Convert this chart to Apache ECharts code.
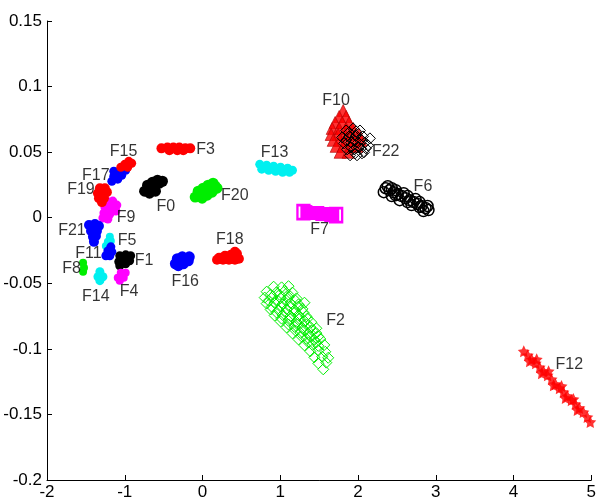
<!DOCTYPE html>
<html>
<head>
<meta charset="utf-8">
<script src="https://cdn.jsdelivr.net/npm/echarts@6/dist/echarts.min.js"></script>
<style>
html,body{margin:0;padding:0;background:#fff;}
#chart{width:599px;height:502px;}
</style>
</head>
<body>
<div id="chart"></div>
<script>
// ---- data ----
const xTicks = [-2, -1, 0, 1, 2, 3, 4, 5];
const yTicks = [-0.2, -0.15, -0.1, -0.05, 0, 0.05, 0.1, 0.15];

const F0 = [[-0.745,0.0202],[-0.681,0.0218],[-0.617,0.0241],[-0.554,0.0263],[-0.515,0.0278],[-0.707,0.0248],[-0.643,0.0271],[-0.579,0.0286],[-0.681,0.0187],[-0.605,0.0202]];
const F1 = [[-1.064,-0.0290],[-0.988,-0.0283],[-0.924,-0.0290],[-1.077,-0.0336],[-1.000,-0.0329],[-0.937,-0.0329],[-1.064,-0.0366],[-0.988,-0.0351]];
const F2 = [
  [0.915,-0.0526],[1.017,-0.0531],[1.106,-0.0522],
  [0.825,-0.0564],[0.953,-0.0568],[1.055,-0.0560],[1.157,-0.0571],
  [0.800,-0.0609],[0.902,-0.0604],[1.004,-0.0613],[1.106,-0.0606],[1.209,-0.0615],
  [0.825,-0.0655],[0.928,-0.0650],[1.030,-0.0659],[1.132,-0.0652],[1.234,-0.0661],[1.311,-0.0648],
  [0.876,-0.0700],[0.979,-0.0706],[1.081,-0.0697],[1.183,-0.0704],[1.285,-0.0695],
  [0.928,-0.0746],[1.030,-0.0741],[1.132,-0.0750],[1.234,-0.0743],[1.336,-0.0752],
  [1.004,-0.0791],[1.106,-0.0786],[1.209,-0.0795],[1.311,-0.0788],[1.400,-0.0797],
  [1.081,-0.0837],[1.183,-0.0832],[1.285,-0.0841],[1.387,-0.0834],[1.464,-0.0843],
  [1.157,-0.0882],[1.260,-0.0878],[1.362,-0.0886],[1.464,-0.0880],
  [1.234,-0.0928],[1.336,-0.0923],[1.438,-0.0932],[1.515,-0.0925],
  [1.311,-0.0973],[1.413,-0.0969],[1.489,-0.0977],[1.566,-0.0970],
  [1.387,-0.1019],[1.489,-0.1014],[1.579,-0.1022],
  [1.438,-0.1064],[1.540,-0.1060],[1.617,-0.1068],
  [1.489,-0.1110],[1.592,-0.1105],
  [1.553,-0.1156],
  [0.876,-0.0587],[0.991,-0.0587],[1.106,-0.0587],
  [0.851,-0.0632],[0.966,-0.0632],[1.081,-0.0632],[1.196,-0.0632],
  [0.889,-0.0678],[1.004,-0.0678],[1.119,-0.0678],[1.234,-0.0678],
  [0.953,-0.0723],[1.068,-0.0723],[1.183,-0.0723],[1.298,-0.0723],
  [1.017,-0.0769],[1.132,-0.0769],[1.247,-0.0769],[1.349,-0.0769],
  [1.106,-0.0814],[1.221,-0.0814],[1.336,-0.0814],
  [1.196,-0.0860],[1.311,-0.0860],[1.413,-0.0860],
  [1.273,-0.0905],[1.387,-0.0905],[1.489,-0.0905],
  [1.362,-0.0951],[1.464,-0.0951]
];
const F3 = [[-0.528,0.0529],[-0.451,0.0536],[-0.375,0.0536],[-0.298,0.0536],[-0.221,0.0529],[-0.158,0.0529],[-0.426,0.0514],[-0.324,0.0514],[-0.247,0.0514]];
const F4 = [[-1.051,-0.0419],[-0.988,-0.0419],[-1.090,-0.0457],[-1.013,-0.0457],[-1.064,-0.0480]];
const F5 = [[-1.192,-0.0146],[-1.217,-0.0184],[-1.179,-0.0177],[-1.243,-0.0215]];
const F6 = [[2.357,0.0225],[2.408,0.0210],[2.460,0.0195],[2.511,0.0180],[2.562,0.0165],[2.613,0.0149],[2.664,0.0134],[2.715,0.0119],[2.766,0.0104],[2.817,0.0089],[2.868,0.0074],[2.906,0.0058],[2.434,0.0225],[2.587,0.0187],[2.740,0.0142],[2.485,0.0172],[2.638,0.0119],[2.791,0.0081],
  [2.383,0.0240],[2.485,0.0210],[2.638,0.0165],[2.791,0.0119],[2.894,0.0089],[2.332,0.0195],[2.434,0.0165],[2.536,0.0134],[2.689,0.0096],[2.842,0.0051]];
const F7 = [[1.298,0.0043],[1.336,0.0043],[1.375,0.0036],[1.413,0.0036],[1.451,0.0036],[1.489,0.0036],[1.528,0.0028],[1.566,0.0028],[1.604,0.0028],[1.643,0.0020],[1.681,0.0020],[1.719,0.0020]];
const F8 = [[-1.536,-0.0344],[-1.524,-0.0382],[-1.536,-0.0412]];
const F9 = [[-1.230,0.0127],[-1.154,0.0127],[-1.102,0.0096],[-1.256,0.0081],[-1.179,0.0081],[-1.115,0.0051],[-1.268,0.0036],[-1.192,0.0028],[-1.281,-0.0002],[-1.217,-0.0010]];
const F10 = [
  [1.809,0.0817],
  [1.758,0.0772],[1.847,0.0772],
  [1.706,0.0726],[1.796,0.0726],[1.885,0.0726],
  [1.668,0.0681],[1.758,0.0681],[1.847,0.0681],[1.936,0.0681],
  [1.655,0.0635],[1.745,0.0635],[1.834,0.0635],[1.923,0.0635],[2.013,0.0635],
  [1.681,0.0590],[1.770,0.0590],[1.860,0.0590],[1.949,0.0590],[2.038,0.0590],
  [1.719,0.0544],[1.809,0.0544],[1.898,0.0544],[1.987,0.0544],
  [1.770,0.0499],[1.872,0.0499]
];
const F11 = [[-1.179,-0.0222],[-1.217,-0.0253],[-1.166,-0.0260],[-1.243,-0.0290],[-1.192,-0.0290]];
const F12 = [[4.132,-0.1019],[4.183,-0.1049],[4.234,-0.1080],[4.285,-0.1110],[4.336,-0.1140],[4.387,-0.1171],[4.438,-0.1201],[4.489,-0.1231],[4.540,-0.1269],[4.591,-0.1300],[4.642,-0.1330],[4.693,-0.1360],[4.744,-0.1391],[4.796,-0.1421],[4.847,-0.1451],[4.898,-0.1482],[4.949,-0.1520],[4.987,-0.1558],[4.208,-0.1095],[4.362,-0.1186],[4.515,-0.1277],[4.668,-0.1375],[4.821,-0.1466],[4.298,-0.1080],[4.451,-0.1171],[4.617,-0.1284],[4.770,-0.1383]];
const F13 = [[0.736,0.0407],[0.825,0.0400],[0.915,0.0392],[1.004,0.0385],[1.094,0.0377],[1.157,0.0362],[0.762,0.0370],[0.851,0.0362],[0.940,0.0354],[1.030,0.0347],[1.119,0.0347]];
const F14 = [[-1.320,-0.0412],[-1.345,-0.0450],[-1.281,-0.0450],[-1.320,-0.0480]];
const F15 = [[-1.051,0.0385],[-1.000,0.0407],[-0.949,0.0430],[-0.911,0.0415],[-0.962,0.0385]];
const F16 = [[-0.349,-0.0351],[-0.285,-0.0336],[-0.221,-0.0313],[-0.170,-0.0298],[-0.311,-0.0366],[-0.247,-0.0351],[-0.183,-0.0329],[-0.324,-0.0313],[-0.260,-0.0298]];
const F17 = [[-1.166,0.0278],[-1.141,0.0316],[-1.090,0.0294],[-1.090,0.0339],[-1.039,0.0324],[-1.039,0.0369],[-0.988,0.0362],[-0.988,0.0400],[-1.141,0.0354]];
const F18 = [[0.187,-0.0321],[0.264,-0.0321],[0.340,-0.0321],[0.417,-0.0321],[0.468,-0.0313],[0.289,-0.0290],[0.366,-0.0283],[0.443,-0.0275],[0.417,-0.0260],[0.213,-0.0306]];
const F19 = [[-1.320,0.0225],[-1.256,0.0225],[-1.345,0.0187],[-1.281,0.0187],[-1.230,0.0195],[-1.332,0.0149],[-1.268,0.0149],[-1.294,0.0119]];
const F20 = [[-0.094,0.0157],[-0.030,0.0172],[0.034,0.0195],[0.098,0.0218],[0.162,0.0241],[-0.056,0.0202],[0.008,0.0225],[0.072,0.0248],[0.136,0.0263],[-0.005,0.0149],[0.060,0.0172],[0.123,0.0195],[0.187,0.0225]];
const F21 = [[-1.460,-0.0055],[-1.383,-0.0048],[-1.332,-0.0063],[-1.434,-0.0101],[-1.358,-0.0101],[-1.409,-0.0146],[-1.371,-0.0139],[-1.396,-0.0184]];
const F22 = [[1.847,0.0665],[1.936,0.0681],[2.026,0.0665],[1.796,0.0612],[1.885,0.0620],[1.975,0.0627],[2.064,0.0620],[1.821,0.0567],[1.911,0.0574],[2.000,0.0574],[2.089,0.0574],[1.860,0.0521],[1.949,0.0521],[2.038,0.0529],[2.128,0.0552],[1.898,0.0476],[1.987,0.0476],[2.077,0.0499],[2.153,0.0605],
  [1.885,0.0650],[1.975,0.0658],[1.847,0.0590],[1.949,0.0590],[2.038,0.0597],[1.911,0.0536],[2.013,0.0536],[2.102,0.0529],[1.962,0.0491],[2.051,0.0491]];

const labelNames = ['F0','F1','F2','F3','F4','F5','F6','F7','F8','F9','F10','F11','F12','F13','F14','F15','F16','F17','F18','F19','F20','F21','F22'];
const labelX = [-0.592,-0.873,1.591,-0.081,-1.064,-1.090,2.715,1.387,-1.805,-1.102,1.541,-1.638,4.540,0.749,-1.549,-1.192,-0.400,-1.549,0.174,-1.741,0.238,-1.856,2.179];
const labelY = [0.0081,-0.0329,-0.0784,0.0521,-0.0564,-0.0177,0.0241,-0.0093,-0.0389,-0.0002,0.0893,-0.0275,-0.1118,0.0499,-0.0602,0.0505,-0.0488,0.0324,-0.0169,0.0218,0.0172,-0.0101,0.0506];

// ---- styles ----
const RED='#ff0000', BLUE='#0000ff', GREEN='#00ee00', BLACK='#000000', MAG='#ff00ff', CYAN='#00f0f0';
const STAR='path://M0,-10 L2.9,-4 L9.5,-3.1 L4.7,1.5 L5.9,8.1 L0,5 L-5.9,8.1 L-4.7,1.5 L-9.5,-3.1 L-2.9,-4 Z';

function filled(name, data, color, size, symbol){
  return {name, type:'scatter', data, symbol:symbol||'circle', symbolSize:size,
    itemStyle:{color, opacity:1}, emphasis:{disabled:true}};
}
function open(name, data, color, symbol, size, bw){
  return {name, type:'scatter', data, symbol, symbolSize:size,
    itemStyle:{color:'rgba(0,0,0,0)', borderColor:color, borderWidth:bw||1, opacity:1}, emphasis:{disabled:true}};
}

const series = [
  filled('F0', F0, BLACK, 11),
  filled('F1', F1, BLACK, 9),
  open('F2', F2, GREEN, 'diamond', 11, 1),
  filled('F3', F3, RED, 10),
  filled('F4', F4, MAG, 8),
  filled('F5', F5, CYAN, 8),
  open('F6', F6, BLACK, 'circle', 11, 1.5),
  filled('F7', F7.slice(1, -1), MAG, [12,14], 'rect'),
  open('F7', [F7[0], F7[F7.length-1]], MAG, 'rect', [12,14], 2.5),
  filled('F8', F8, GREEN, 8),
  filled('F9', F9, MAG, 9),
  {name:'F10', type:'scatter', data:F10, symbol:'triangle', symbolSize:12,
    itemStyle:{color:RED, borderColor:'#b00000', borderWidth:0.8}, emphasis:{disabled:true}},
  filled('F11', F11, BLUE, 9),
  {name:'F12', type:'scatter', data:F12, symbol:STAR, symbolSize:12, itemStyle:{color:RED}, emphasis:{disabled:true}},
  filled('F13', F13, CYAN, 9),
  filled('F14', F14, CYAN, 9),
  filled('F16', F16, BLUE, 11),
  filled('F17', F17, BLUE, 9),
  filled('F15', F15, RED, 9),
  filled('F18', F18, RED, 10),
  filled('F19', F19, RED, 10),
  filled('F20', F20, GREEN, 11),
  filled('F21', F21, BLUE, 10),
  open('F22', F22, BLACK, 'diamond', 11, 1),
  {
    name:'labels', type:'scatter', symbolSize:0, silent:true, z:10,
    data: labelNames.map((n,i)=>({value:[labelX[i], labelY[i]], name:n})),
    label:{show:true, position:[0,0], align:'left', verticalAlign:'middle',
      formatter:p=>p.name, color:'#000', fontSize:16, fontFamily:'Liberation Sans, Arial, sans-serif'}
  }
];

const chart = echarts.init(document.getElementById('chart'), null, {renderer:'canvas'});
chart.setOption({
  animation:false,
  backgroundColor:'#ffffff',
  grid:{left:47, right:4, top:21, bottom:22, containLabel:false},
  xAxis:{type:'value', min:xTicks[0], max:xTicks[xTicks.length-1], interval:1,
    axisLine:{show:true, onZero:false, lineStyle:{color:'#000', width:1}},
    axisTick:{show:true, inside:true, length:5, lineStyle:{color:'#000'}},
    axisLabel:{color:'#000', fontSize:17, fontFamily:'Liberation Sans, Arial, sans-serif', margin:4},
    splitLine:{show:false}},
  yAxis:{type:'value', min:yTicks[0], max:yTicks[yTicks.length-1], interval:0.05,
    axisLine:{show:true, onZero:false, lineStyle:{color:'#000', width:1}},
    axisTick:{show:true, inside:true, length:5, lineStyle:{color:'#000'}},
    axisLabel:{color:'#000', fontSize:17, fontFamily:'Liberation Sans, Arial, sans-serif', margin:5,
      formatter:v=>String(parseFloat(v.toFixed(2)))},
    splitLine:{show:false}},
  series
});
</script>
</body>
</html>
